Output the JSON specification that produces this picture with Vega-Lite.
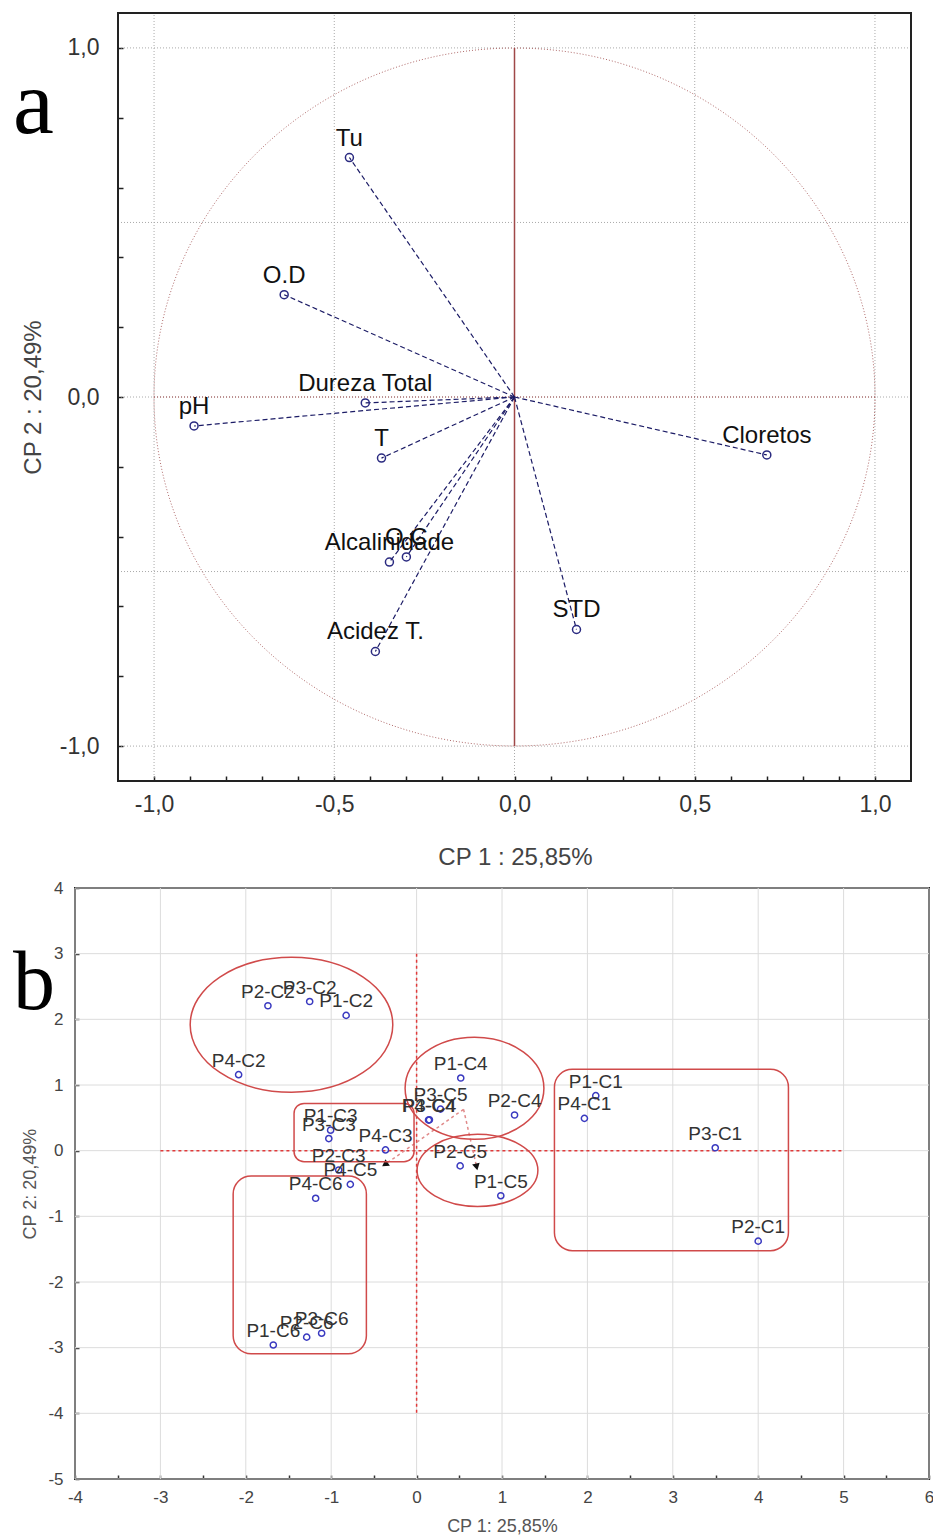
{
  "$schema": "https://vega.github.io/schema/vega-lite/v6.json",
  "background": "white",
  "padding": {"left": 11, "top": 12, "right": 0, "bottom": 0},
  "config": {
    "font": "Liberation Sans",
    "view": {"stroke": "#222", "strokeWidth": 2},
    "axis": {"labelFont": "Liberation Sans", "titleFont": "Liberation Sans", "titleFontWeight": "normal", "domain": false, "grid": false, "labelOverlap": false, "labelFlush": false, "ticks": true, "tickWidth": 1.5, "tickColor": "#222"}
  },
  "columns": 1,
  "spacing": 9,
  "concat": [
    {
      "width": 836,
      "height": 768,
      "view": {"stroke": null},
      "layer": [
        {
          "data": {"values": [{"g": -1, "lo": -1.1, "hi": 1.1}, {"g": -0.5, "lo": -1.1, "hi": 1.1}, {"g": 0, "lo": -1.1, "hi": 1.1}, {"g": 0.5, "lo": -1.1, "hi": 1.1}, {"g": 1, "lo": -1.1, "hi": 1.1}]},
          "layer": [
            {
              "mark": {"type": "rule", "color": "#aaa", "strokeWidth": 1, "strokeDash": [1, 2]},
              "encoding": {
                "x": {"field": "g", "type": "quantitative", "scale": {"domain": [-1.2193, 1.1], "nice": false, "zero": false},
                  "axis": {"title": "CP 1 : 25,85%", "titleX": 440, "values": [-1.0, -0.9, -0.8, -0.7, -0.6, -0.5, -0.4, -0.3, -0.2, -0.1, 0, 0.1, 0.2, 0.3, 0.4, 0.5, 0.6, 0.7, 0.8, 0.9, 1.0], "labelExpr": "abs(datum.value * 2 - round(datum.value * 2)) < 0.001 ? replace(replace(format(datum.value, '.1f'), '.', ','), '\u2212', '-') : ''", "labelOverlap": false, "tickSize": -5, "labelFontSize": 23, "labelColor": "#333", "titleFontSize": 24, "titleColor": "#444", "labelPadding": 17, "titlePadding": 29}},
                "y": {"field": "lo", "type": "quantitative", "scale": {"domain": [-1.1, 1.1], "nice": false, "zero": false},
                  "axis": {"title": "CP 2 : 20,49%", "offset": -43, "values": [-1.0, -0.9, -0.8, -0.7, -0.6, -0.5, -0.4, -0.3, -0.2, -0.1, 0, 0.1, 0.2, 0.3, 0.4, 0.5, 0.6, 0.7, 0.8, 0.9, 1.0], "labelExpr": "abs(datum.value * 2 - round(datum.value * 2)) < 0.001 ? replace(replace(format(datum.value, '.1f'), '.', ','), '\u2212', '-') : ''", "labelOverlap": false, "tickSize": -5, "labelFontSize": 23, "labelColor": "#333", "titleFontSize": 24, "titleColor": "#444", "labelPadding": 24, "titlePadding": 14}},
                "y2": {"field": "hi"}
              }
            },
            {
              "mark": {"type": "rule", "color": "#aaa", "strokeWidth": 1, "strokeDash": [1, 2]},
              "encoding": {
                "y": {"field": "g", "type": "quantitative"},
                "x": {"field": "lo", "type": "quantitative"},
                "x2": {"field": "hi"}
              }
            }
          ]
        },
        {
          "data": {"values": [{"x1": -1.1, "x2": 1.1, "y1": -1.1, "y2": 1.1}]},
          "mark": {"type": "rect", "fillOpacity": 0, "stroke": "#222", "strokeWidth": 2},
          "encoding": {"x": {"field": "x1", "type": "quantitative"}, "x2": {"field": "x2"}, "y": {"field": "y1", "type": "quantitative"}, "y2": {"field": "y2"}}
        },
        {
          "data": {"values": [{"cx": 0, "cy": 0}]},
          "mark": {"type": "point", "shape": "M 1 0 C 1 0.5346 0.5523 0.968 0 0.968 C -0.5523 0.968 -1 0.5346 -1 0 C -1 -0.5346 -0.5523 -0.968 0 -0.968 C 0.5523 -0.968 1 -0.5346 1 0 Z", "size": 519841, "filled": false, "stroke": "#b06a6a", "strokeWidth": 1, "strokeDash": [1, 2], "opacity": 1},
          "encoding": {"x": {"field": "cx", "type": "quantitative"}, "y": {"field": "cy", "type": "quantitative"}}
        },
        {
          "data": {"values": [{"x1": 0, "x2": 0, "y1": -1, "y2": 1}]},
          "mark": {"type": "rule", "color": "#a04848", "strokeWidth": 1.5},
          "encoding": {"x": {"field": "x1", "type": "quantitative"}, "x2": {"field": "x2"}, "y": {"field": "y1", "type": "quantitative"}, "y2": {"field": "y2"}}
        },
        {
          "data": {"values": [{"x1": -1, "x2": 1, "y1": 0, "y2": 0}]},
          "mark": {"type": "rule", "color": "#a04848", "strokeWidth": 1, "strokeDash": [1, 2]},
          "encoding": {"x": {"field": "x1", "type": "quantitative"}, "x2": {"field": "x2"}, "y": {"field": "y1", "type": "quantitative"}, "y2": {"field": "y2"}}
        },
        {
          "data": {"values": [
            {"var": "Tu", "x0": 0, "y0": 0, "x": -0.458, "y": 0.686},
            {"var": "O.D", "x0": 0, "y0": 0, "x": -0.639, "y": 0.293},
            {"var": "Dureza Total", "x0": 0, "y0": 0, "x": -0.414, "y": -0.017},
            {"var": "pH", "x0": 0, "y0": 0, "x": -0.889, "y": -0.083},
            {"var": "T", "x0": 0, "y0": 0, "x": -0.369, "y": -0.175},
            {"var": "O.C", "x0": 0, "y0": 0, "x": -0.3, "y": -0.458},
            {"var": "Alcalinidade", "x0": 0, "y0": 0, "x": -0.347, "y": -0.473},
            {"var": "Acidez T.", "x0": 0, "y0": 0, "x": -0.386, "y": -0.729},
            {"var": "STD", "x0": 0, "y0": 0, "x": 0.172, "y": -0.666},
            {"var": "Cloretos", "x0": 0, "y0": 0, "x": 0.7, "y": -0.166}
          ]},
          "layer": [
            {
              "mark": {"type": "rule", "color": "#1c1c66", "strokeWidth": 1.2, "strokeDash": [5, 3]},
              "encoding": {"x": {"field": "x0", "type": "quantitative"}, "y": {"field": "y0", "type": "quantitative"}, "x2": {"field": "x"}, "y2": {"field": "y"}}
            },
            {
              "mark": {"type": "point", "shape": "circle", "filled": false, "size": 64, "stroke": "#2a2a80", "strokeWidth": 1.5, "opacity": 1},
              "encoding": {"x": {"field": "x", "type": "quantitative"}, "y": {"field": "y", "type": "quantitative"}}
            },
            {
              "mark": {"type": "text", "fontSize": 24, "font": "Liberation Sans", "color": "#111", "align": "center", "baseline": "alphabetic", "dy": -12},
              "encoding": {"x": {"field": "x", "type": "quantitative"}, "y": {"field": "y", "type": "quantitative"}, "text": {"field": "var"}}
            }
          ]
        },
        {
          "data": {"values": [{"letter": "a", "x": -1.3913, "y": 0.757}]},
          "mark": {"type": "text", "font": "Liberation Serif", "fontSize": 92, "color": "#000", "align": "left", "baseline": "alphabetic"},
          "encoding": {"x": {"field": "x", "type": "quantitative"}, "y": {"field": "y", "type": "quantitative"}, "text": {"field": "letter"}}
        }
      ]
    },
    {
      "width": 854,
      "height": 591,
      "layer": [
        {
          "data": {"values": [{"g": -4}, {"g": -3}, {"g": -2}, {"g": -1}, {"g": 0}, {"g": 1}, {"g": 2}, {"g": 3}, {"g": 4}, {"g": 5}, {"g": 6}]},
          "mark": {"type": "rule", "color": "#dcdcdc", "strokeWidth": 1},
          "encoding": {
            "x": {"field": "g", "type": "quantitative", "scale": {"domain": [-4, 6], "nice": false, "zero": false},
              "axis": {"title": "CP 1: 25,85%", "values": [-4, -3.75, -3.5, -3.25, -3, -2.75, -2.5, -2.25, -2, -1.75, -1.5, -1.25, -1, -0.75, -0.5, -0.25, 0, 0.25, 0.5, 0.75, 1, 1.25, 1.5, 1.75, 2, 2.25, 2.5, 2.75, 3, 3.25, 3.5, 3.75, 4, 4.25, 4.5, 4.75, 5, 5.25, 5.5, 5.75, 6], "labelExpr": "abs(datum.value - round(datum.value)) < 0.001 ? '' + datum.value : ''", "labelOverlap": false, "tickSize": -4, "tickColor": "#333", "labelFontSize": 17, "labelColor": "#444", "titleFontSize": 18, "titleColor": "#555", "labelPadding": 14, "titlePadding": 12}}
          }
        },
        {
          "data": {"values": [{"g": -5}, {"g": -4}, {"g": -3}, {"g": -2}, {"g": -1}, {"g": 0}, {"g": 1}, {"g": 2}, {"g": 3}, {"g": 4}]},
          "mark": {"type": "rule", "color": "#dcdcdc", "strokeWidth": 1},
          "encoding": {
            "y": {"field": "g", "type": "quantitative", "scale": {"domain": [-5, 4], "nice": false, "zero": false},
              "axis": {"title": "CP 2: 20,49%", "values": [-5, -4.75, -4.5, -4.25, -4, -3.75, -3.5, -3.25, -3, -2.75, -2.5, -2.25, -2, -1.75, -1.5, -1.25, -1, -0.75, -0.5, -0.25, 0, 0.25, 0.5, 0.75, 1, 1.25, 1.5, 1.75, 2, 2.25, 2.5, 2.75, 3, 3.25, 3.5, 3.75, 4], "labelExpr": "abs(datum.value - round(datum.value)) < 0.001 ? '' + datum.value : ''", "labelOverlap": false, "tickSize": -4, "tickColor": "#333", "labelFontSize": 17, "labelColor": "#444", "titleFontSize": 18, "titleColor": "#555", "labelPadding": 16, "titlePadding": 8}}
          }
        },
        {
          "data": {"values": [{"x1": -3, "x2": 5, "y1": 0, "y2": 0}, {"x1": 0, "x2": 0, "y1": 3, "y2": -4}]},
          "mark": {"type": "rule", "color": "#e03a3a", "strokeWidth": 1.5, "strokeDash": [3, 3]},
          "encoding": {"x": {"field": "x1", "type": "quantitative"}, "x2": {"field": "x2"}, "y": {"field": "y1", "type": "quantitative"}, "y2": {"field": "y2"}}
        },
        {
          "data": {"values": [{"x1": 0.55, "y1": 0.63, "x2": -0.36, "y2": -0.2}, {"x1": 0.55, "y1": 0.63, "x2": 0.7, "y2": -0.23}]},
          "mark": {"type": "rule", "color": "#e08a8a", "strokeWidth": 1.5, "strokeDash": [3, 3]},
          "encoding": {"x": {"field": "x1", "type": "quantitative"}, "x2": {"field": "x2"}, "y": {"field": "y1", "type": "quantitative"}, "y2": {"field": "y2"}}
        },
        {
          "data": {"values": [{"x": -0.36, "y": -0.2}]},
          "mark": {"type": "point", "shape": "triangle", "size": 60, "filled": true, "color": "#111", "opacity": 1, "angle": 235},
          "encoding": {"x": {"field": "x", "type": "quantitative"}, "y": {"field": "y", "type": "quantitative"}}
        },
        {
          "data": {"values": [{"x": 0.7, "y": -0.23}]},
          "mark": {"type": "point", "shape": "triangle", "size": 60, "filled": true, "color": "#111", "opacity": 1, "angle": 167},
          "encoding": {"x": {"field": "x", "type": "quantitative"}, "y": {"field": "y", "type": "quantitative"}}
        },
        {
          "data": {"values": [{"group": "C2", "cx": -1.465, "cy": 1.917}]},
          "mark": {"type": "point", "shape": "M 1 0 C 1 0.3678 0.5523 0.666 0 0.666 C -0.5523 0.666 -1 0.3678 -1 0 C -1 -0.3678 -0.5523 -0.666 0 -0.666 C 0.5523 -0.666 1 -0.3678 1 0 Z", "size": 41045, "filled": false, "stroke": "#d04a4a", "strokeWidth": 1.5, "opacity": 1},
          "encoding": {"x": {"field": "cx", "type": "quantitative"}, "y": {"field": "cy", "type": "quantitative"}}
        },
        {
          "data": {"values": [{"group": "C4", "cx": 0.678, "cy": 0.95}]},
          "mark": {"type": "point", "shape": "M 1 0 C 1 0.4065 0.5523 0.736 0 0.736 C -0.5523 0.736 -1 0.4065 -1 0 C -1 -0.4065 -0.5523 -0.736 0 -0.736 C 0.5523 -0.736 1 -0.4065 1 0 Z", "size": 19265, "filled": false, "stroke": "#d04a4a", "strokeWidth": 1.5, "opacity": 1},
          "encoding": {"x": {"field": "cx", "type": "quantitative"}, "y": {"field": "cy", "type": "quantitative"}}
        },
        {
          "data": {"values": [{"group": "C5", "cx": 0.713, "cy": -0.3}]},
          "mark": {"type": "point", "shape": "M 1 0 C 1 0.3303 0.5523 0.598 0 0.598 C -0.5523 0.598 -1 0.3303 -1 0 C -1 -0.3303 -0.5523 -0.598 0 -0.598 C 0.5523 -0.598 1 -0.3303 1 0 Z", "size": 14593, "filled": false, "stroke": "#d04a4a", "strokeWidth": 1.5, "opacity": 1},
          "encoding": {"x": {"field": "cx", "type": "quantitative"}, "y": {"field": "cy", "type": "quantitative"}}
        },
        {
          "data": {"values": [{"group": "C3", "x1": -1.435, "x2": -0.03, "y1": 0.72, "y2": -0.167}]},
          "mark": {"type": "rect", "fillOpacity": 0, "stroke": "#d04a4a", "strokeWidth": 1.5, "cornerRadius": 10},
          "encoding": {"x": {"field": "x1", "type": "quantitative"}, "x2": {"field": "x2"}, "y": {"field": "y1", "type": "quantitative"}, "y2": {"field": "y2"}}
        },
        {
          "data": {"values": [{"group": "C6", "x1": -2.148, "x2": -0.588, "y1": -0.385, "y2": -3.094}, {"group": "C1", "x1": 1.614, "x2": 4.354, "y1": 1.24, "y2": -1.523}]},
          "mark": {"type": "rect", "fillOpacity": 0, "stroke": "#d04a4a", "strokeWidth": 1.5, "cornerRadius": 18},
          "encoding": {"x": {"field": "x1", "type": "quantitative"}, "x2": {"field": "x2"}, "y": {"field": "y1", "type": "quantitative"}, "y2": {"field": "y2"}}
        },
        {
          "data": {"values": [
            {"id": "P1-C1", "x": 2.098, "y": 0.837},
            {"id": "P2-C1", "x": 4.0, "y": -1.378},
            {"id": "P3-C1", "x": 3.497, "y": 0.044},
            {"id": "P4-C1", "x": 1.965, "y": 0.492},
            {"id": "P1-C2", "x": -0.825, "y": 2.06},
            {"id": "P2-C2", "x": -1.741, "y": 2.207},
            {"id": "P3-C2", "x": -1.252, "y": 2.271},
            {"id": "P4-C2", "x": -2.084, "y": 1.157},
            {"id": "P1-C3", "x": -1.007, "y": 0.312},
            {"id": "P2-C3", "x": -0.912, "y": -0.294},
            {"id": "P3-C3", "x": -1.028, "y": 0.184},
            {"id": "P4-C3", "x": -0.364, "y": 0.011},
            {"id": "P1-C4", "x": 0.517, "y": 1.106},
            {"id": "P2-C4", "x": 1.147, "y": 0.543},
            {"id": "P3-C4", "x": 0.15, "y": 0.47},
            {"id": "P4-C4", "x": 0.14, "y": 0.466},
            {"id": "P1-C5", "x": 0.986, "y": -0.686},
            {"id": "P2-C5", "x": 0.51, "y": -0.232},
            {"id": "P3-C5", "x": 0.28, "y": 0.633},
            {"id": "P4-C5", "x": -0.776, "y": -0.513},
            {"id": "P1-C6", "x": -1.678, "y": -2.959},
            {"id": "P2-C6", "x": -1.287, "y": -2.84},
            {"id": "P3-C6", "x": -1.112, "y": -2.78},
            {"id": "P4-C6", "x": -1.182, "y": -0.725}
          ]},
          "layer": [
            {
              "mark": {"type": "point", "shape": "circle", "filled": false, "size": 38, "stroke": "#3a3ac0", "strokeWidth": 1.5, "opacity": 1},
              "encoding": {"x": {"field": "x", "type": "quantitative"}, "y": {"field": "y", "type": "quantitative"}}
            },
            {
              "mark": {"type": "text", "fontSize": 19, "font": "Liberation Sans", "color": "#333", "align": "center", "baseline": "alphabetic", "dy": -8},
              "encoding": {"x": {"field": "x", "type": "quantitative"}, "y": {"field": "y", "type": "quantitative"}, "text": {"field": "id"}}
            }
          ]
        },
        {
          "data": {"values": [{"letter": "b", "x": -4.726, "y": 2.16}]},
          "mark": {"type": "text", "font": "Liberation Serif", "fontSize": 84, "color": "#000", "align": "left", "baseline": "alphabetic"},
          "encoding": {"x": {"field": "x", "type": "quantitative"}, "y": {"field": "y", "type": "quantitative"}, "text": {"field": "letter"}}
        }
      ]
    }
  ]
}
